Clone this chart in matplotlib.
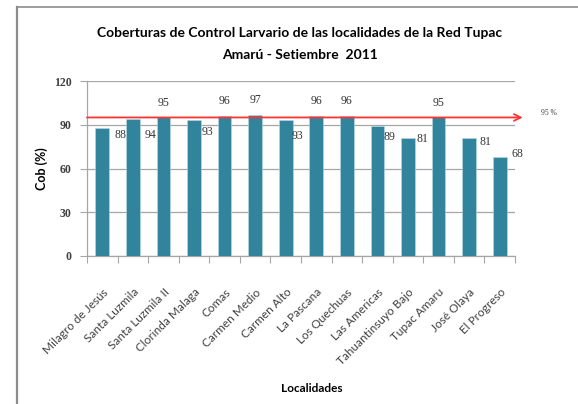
import numpy as np
import matplotlib.pyplot as plt
from matplotlib.lines import Line2D

# Datos
localidades = ['Milagro de Jesús', 'Santa Luzmila', 'Santa Luzmila II', 'Clorinda Malaga',
               'Comas', 'Carmen Medio', 'Carmen Alto', 'La Pascana', 'Los Quechuas',
               'Las Americas', 'Tahuantinsuyo Bajo', 'Tupac Amaru', 'José Olaya', 'El Progreso']
cobertura = [88, 94, 95, 93, 96, 97, 93, 96, 96, 89, 81, 95, 81, 68]
meta = 95

# posicion de las etiquetas a la derecha de la barra (dx, y)
lbl_right = {0: (0.58, 83), 1: (0.59, 83), 3: (0.43, 85), 6: (0.40, 82),
             9: (0.38, 81.5), 10: (0.46, 80), 12: (0.52, 78), 13: (0.57, 70)}

color_barra = '#31849b'
gris = '#a6a6a6'

fig = plt.figure(figsize=(5.78, 4.04), dpi=100)
ax = fig.add_axes([87/578, 1-256/404, (515-87)/578, (256-81)/404])

x = np.arange(len(localidades))
ax.bar(x, cobertura, width=0.45, color=color_barra, edgecolor='#b7dde8', linewidth=0.4, zorder=3)

ax.set_xlim(-0.5, len(localidades)-0.5)
ax.set_ylim(0, 120)
ax.set_yticks([0, 30, 60, 90, 120])
ax.grid(axis='y', color=gris, linewidth=0.9, zorder=0)
for s in ['top', 'right']:
    ax.spines[s].set_visible(False)
for s in ['left', 'bottom']:
    ax.spines[s].set_color(gris)
    ax.spines[s].set_linewidth(0.9)

ax.tick_params(axis='y', length=5, color=gris, pad=6)
for t in ax.get_yticklabels():
    t.set_fontfamily('Liberation Serif')
    t.set_fontweight('bold')
    t.set_fontsize(8.5)
    t.set_color('#404040')

# ticks entre categorias
ax.set_xticks(np.arange(-0.5, len(localidades), 1.0))
ax.set_xticklabels([])
ax.tick_params(axis='x', which='major', length=5, color=gris)
ax.set_xticks(x, minor=True)
ax.set_xticklabels(localidades, minor=True, rotation=45, ha='right',
                   rotation_mode='anchor', fontsize=8.5, color='#404040', family='Lato')
ax.tick_params(axis='x', which='minor', length=0, pad=22)

# etiquetas de datos
for i, v in enumerate(cobertura):
    if i in lbl_right:
        dx, yy = lbl_right[i]
        ax.text(i + dx, yy, str(v), ha='center', va='center', fontsize=8.5,
                family='Liberation Serif', color='#333333', zorder=4)
    else:
        ax.text(i, v + 10, str(v), ha='center', va='center', fontsize=8.5,
                family='Liberation Serif', color='#333333', zorder=4)

# linea de meta 95 %
ax.annotate('', xy=(13.75, meta), xytext=(-0.5, meta),
            arrowprops=dict(arrowstyle='->', color='#ff3333', lw=1.3,
                            mutation_scale=12, shrinkA=0, shrinkB=0),
            annotation_clip=False, zorder=5)
ax.text(14.6, meta + 3, '95 %', fontsize=5.5, family='Liberation Serif',
        color='#404040', ha='center', va='center', clip_on=False)

ax.set_ylabel('Cob (%)', fontsize=9, fontweight='bold', family='Lato', labelpad=4)
fig.text(312/578, 1-388/404, 'Localidades', fontsize=8.5, fontweight='bold',
         family='Lato', ha='center', va='center')

fig.text(300/578, 1-33/404, 'Coberturas de Control Larvario de las localidades de la Red Tupac',
         fontsize=10, fontweight='bold', family='Lato', ha='center', va='center')
fig.text(300/578, 1-55/404, 'Amarú - Setiembre  2011',
         fontsize=10, fontweight='bold', family='Lato', ha='center', va='center')

# borde del grafico
fig.add_artist(Line2D([17/578, 17/578], [0, 1-7/404], color='#8c8c8c', linewidth=1.6))
fig.add_artist(Line2D([17/578, 1], [1-7/404, 1-7/404], color='#8c8c8c', linewidth=1.2))

plt.savefig('out.png', dpi=100)
